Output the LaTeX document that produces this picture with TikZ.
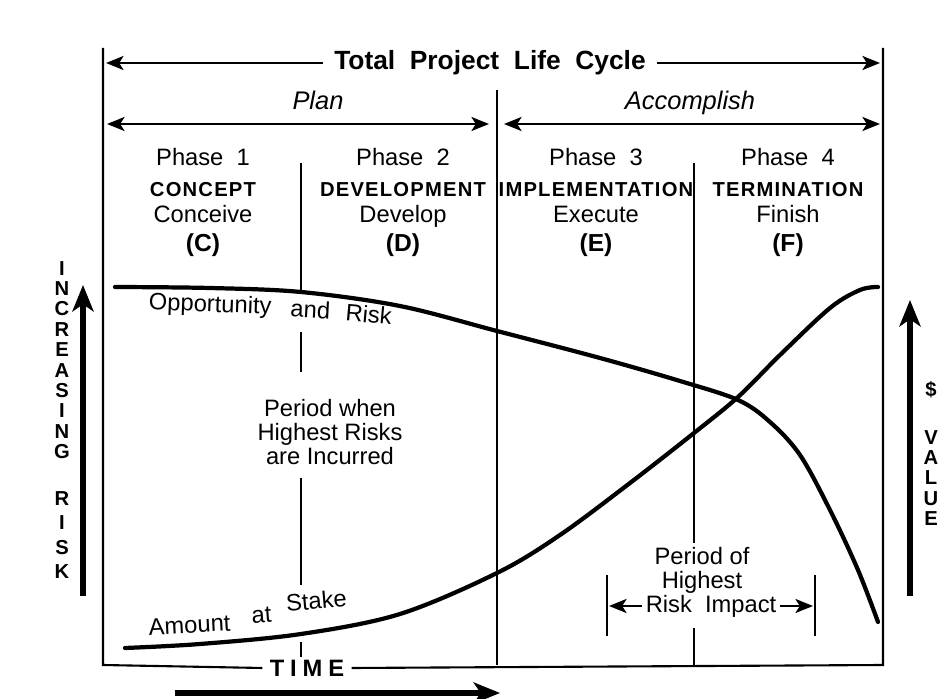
\documentclass[tikz,border=0pt]{standalone}
\usepackage{fontspec}
\setmainfont{Liberation Sans}
\usetikzlibrary{arrows.meta,positioning}

\tikzset{
  frame/.style={line width=1.2pt},
  curve/.style={line width=2.4pt, line cap=round},
  span/.style={line width=1.2pt, {Stealth[length=10pt,width=8pt,inset=2.5pt]}-{Stealth[length=10pt,width=8pt,inset=2.5pt]}},
  halfspan/.style={line width=1.2pt, -{Stealth[length=10pt,width=8pt,inset=2.5pt]}},
  bigarrow/.style={line width=3pt, -{Stealth[length=15pt,width=12pt,inset=4pt]}},
  txt/.style={inner sep=0pt, anchor=base, font=\fontsize{13.5}{16}\selectfont},
  caps/.style={inner sep=0pt, anchor=base, font=\fontsize{11.5}{14}\selectfont\bfseries\addfontfeature{LetterSpace=6}},
  vert/.style={inner sep=0pt, align=center, font=\fontsize{11.5}{11.6}\selectfont\bfseries},
}

\begin{document}
\begin{tikzpicture}[x=0.02cm,y=-0.02cm]
  \useasboundingbox (0,0) rectangle (948,699);

  % Frame
  \coordinate (tl) at (103,48);
  \coordinate (tr) at (883,48);
  \coordinate (bl) at (103,665);
  \coordinate (br) at (883,665);
  \coordinate (mid_t) at (497,90);
  \coordinate (mid_b) at (497,665);

  \node[inner sep=6pt, font=\fontsize{15}{18}\selectfont\bfseries] (total) at (490,63) {Total\ \ Project\ \ Life\ \ Cycle};
  \node[inner sep=4pt, font=\fontsize{13.5}{16}\selectfont\bfseries\addfontfeature{LetterSpace=25}] (time) at (307,668) {TIME};

  \draw[frame] (tl) -- (bl) -- (time.west);
  \draw[frame] (time.east) -- (br) -- (tr);
  \draw[frame] (mid_t) -- (mid_b);

  % Spans
  \coordinate (total_l) at (106,63);
  \coordinate (total_r) at (880,63);
  \draw[halfspan] (total.west) -- (total_l);
  \draw[halfspan] (total.east) -- (total_r);

  \node[txt, font=\fontsize{14.5}{16}\selectfont\itshape] (plan) at (318,110) {Plan};
  \node[txt, font=\fontsize{14.5}{16}\selectfont\itshape] (accomplish) at (690,110) {Accomplish};
  \coordinate (plan_l) at (107,124);
  \coordinate (plan_r) at (489,124);
  \coordinate (acc_l) at (504,124);
  \coordinate (acc_r) at (880,124);
  \draw[span] (plan_l) -- (plan_r);
  \draw[span] (acc_l) -- (acc_r);

  % Phases
  \node[txt] (phase1) at (203,166) {Phase\ \ 1};
  \node[caps] (concept) at (203,197) {CONCEPT};
  \node[txt] (conceive) at (203,223) {Conceive};
  \node[txt, font=\fontsize{14}{16}\selectfont\bfseries] (c) at (203,252) {(C)};

  \node[txt] (phase2) at (403,166) {Phase\ \ 2};
  \node[caps] (development) at (403,197) {DEVELOPMENT};
  \node[txt] (develop) at (403,223) {Develop};
  \node[txt, font=\fontsize{14}{16}\selectfont\bfseries] (d) at (403,252) {(D)};

  \node[txt] (phase3) at (596,166) {Phase\ \ 3};
  \node[caps] (implementation) at (596,197) {IMPLEMENTATION};
  \node[txt] (execute) at (596,223) {Execute};
  \node[txt, font=\fontsize{14}{16}\selectfont\bfseries] (e) at (596,252) {(E)};

  \node[txt] (phase4) at (788,166) {Phase\ \ 4};
  \node[caps] (termination) at (788,197) {TERMINATION};
  \node[txt] (finish) at (788,223) {Finish};
  \node[txt, font=\fontsize{14}{16}\selectfont\bfseries] (f) at (788,252) {(F)};

  % Dividers
  \draw[frame] (301,163) -- (301,291);
  \draw[frame] (301,332) -- (301,372);
  \draw[frame] (301,478) -- (301,585);
  \draw[frame] (301,642) -- (301,657);
  \draw[frame] (694,163) -- (694,543);
  \draw[frame] (694,628) -- (694,665);

  % Curves
  \draw[curve] plot[smooth, tension=0.55] coordinates {(115,287) (210,288) (301,292) (400,306) (497,331) (600,358) (680,381) (738,400) (770,422) (800,455) (830,510) (858,570) (878,622)};
  \draw[curve] plot[smooth, tension=0.55] coordinates {(125,648) (200,644) (301,634) (400,614) (497,573) (560,535) (630,483) (694,433) (738,397) (780,355) (830,308) (860,290) (878,287)};

  \node[txt, rotate=-2] (opportunity) at (210,312) {Opportunity};
  \node[txt, rotate=-3] (and) at (310,318) {and};
  \node[txt, rotate=-5] (risk) at (368,323) {Risk};

  \node[txt, rotate=3] (amount) at (190,633) {Amount};
  \node[txt, rotate=4] (at) at (262,623) {at};
  \node[txt, rotate=5] (stake) at (317,609) {Stake};

  \node[inner sep=0pt, align=center, font=\fontsize{13.5}{13.6}\selectfont] (incurred) at (330,432) {Period when\\Highest Risks\\are Incurred};
  \node[inner sep=0pt, align=center, font=\fontsize{13.5}{13.6}\selectfont] (impact_l1) at (702,570) {Period of\\Highest};
  \node[inner sep=2pt, font=\fontsize{13.5}{16}\selectfont] (impact) at (711,606) {Risk\ \ Impact};

  % Impact span
  \coordinate (imp_l) at (609,606);
  \coordinate (imp_r) at (813,606);
  \draw[frame] (607,575) -- (607,636);
  \draw[frame] (815,575) -- (815,636);
  \draw[halfspan] (impact.west) -- (imp_l);
  \draw[halfspan] (impact.east) -- (imp_r);

  % Axes
  \coordinate (risk_b) at (83,596);
  \coordinate (risk_t) at (83,285);
  \coordinate (value_b) at (910,596);
  \coordinate (value_t) at (910,300);
  \coordinate (time_b) at (175,693);
  \coordinate (time_t) at (500,693);
  \draw[bigarrow] (risk_b) -- (risk_t);
  \draw[bigarrow] (value_b) -- (value_t);
  \draw[bigarrow] (time_b) -- (time_t);

  \node[vert] (increasing) at (62,360) {I\\N\\C\\R\\E\\A\\S\\I\\N\\G};
  \node[vert, font=\fontsize{11.5}{14}\selectfont\bfseries] (risk_lbl) at (62,535) {R\\I\\S\\K};
  \node[vert] (dollar) at (931,390) {\$};
  \node[vert] (value) at (931,478) {V\\A\\L\\U\\E};
\end{tikzpicture}
\end{document}
